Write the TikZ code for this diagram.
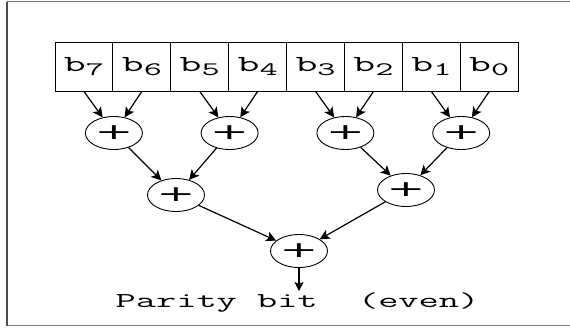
\documentclass[tikz,border=0pt]{standalone}
\usepackage{fontspec}
\usetikzlibrary{shapes.geometric,arrows.meta}
\newfontfamily\monofnt[FakeStretch=1.85]{Latin Modern Mono}
\newfontfamily\plusfnt[FakeStretch=2.1]{DejaVu Sans}
\newcommand\bitlab[1]{{\monofnt\fontsize{23}{23}\selectfont b}\raisebox{-4pt}{\monofnt\fontsize{19}{19}\selectfont #1}}
\tikzset{
  cell/.style={draw, line width=0.9pt, minimum width=57.9pt, minimum height=49pt, inner sep=0pt},
  xorop/.style={draw, ellipse, line width=0.9pt, minimum width=57pt, minimum height=33pt, inner sep=0pt,
    font=\plusfnt\fontsize{22}{22}\selectfont},
  arr/.style={line width=1.2pt, -{Stealth[length=10pt,width=10pt,inset=2.5pt]}},
  frameline/.style={line width=1.6pt}
}
\begin{document}
\begin{tikzpicture}[x=1pt,y=-1pt]
\useasboundingbox (0,0) rectangle (570,327);
% frame
\coordinate (ftl) at (7,1.5);
\coordinate (ftr) at (570,1.5);
\coordinate (fbl) at (7,325.5);
\coordinate (fbr) at (570,325.5);
\draw[frameline, draw=black!55] (ftl) -- (ftr);
\draw[frameline, draw=black!50] (fbl) -- (fbr);
\draw[frameline, draw=black!70] (ftl) -- (fbl);
% bit cells
\foreach \i/\b in {0/7,1/6,2/5,3/4,4/3,5/2,6/1,7/0}{
  \node[cell] (b\b) at ({55+57.9*(\i+0.5)},66.5) {\bitlab{\b}};
}
% xor nodes
\node[xorop] (p1) at (113.9,133) {+};
\node[xorop] (p2) at (229.6,133) {+};
\node[xorop] (p3) at (345.4,133) {+};
\node[xorop] (p4) at (461.2,133) {+};
\node[xorop] (q1) at (176,195) {+};
\node[xorop] (q2) at (406,190) {+};
\node[xorop] (r) at (299,251) {+};
% output label
\node[anchor=base, inner sep=0pt, font=\monofnt\fontsize{21.2}{21.2}\selectfont] (out) at (297.5,307) {Parity bit\ \ (even)};
\coordinate (outtip) at (299,291);
% arrows
\draw[arr] (b7.south) -- (p1);
\draw[arr] (b6.south) -- (p1);
\draw[arr] (b5.south) -- (p2);
\draw[arr] (b4.south) -- (p2);
\draw[arr] (b3.south) -- (p3);
\draw[arr] (b2.south) -- (p3);
\draw[arr] (b1.south) -- (p4);
\draw[arr] (b0.south) -- (p4);
\draw[arr] (p1) -- (q1);
\draw[arr] (p2) -- (q1);
\draw[arr] (p3) -- (q2);
\draw[arr] (p4) -- (q2);
\draw[arr] (q1) -- (r);
\draw[arr] (q2) -- (r);
\draw[line width=1.2pt, -{Stealth[length=9pt,width=9pt,inset=2pt]}] (r) -- (outtip);
\end{tikzpicture}
\end{document}
